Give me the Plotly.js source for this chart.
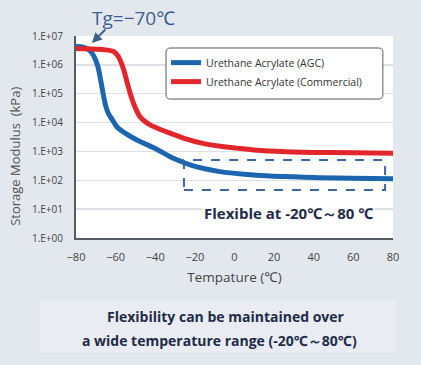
<!DOCTYPE html>
<html><head><meta charset="utf-8">
<script src="https://cdn.plot.ly/plotly-3.0.1.min.js"></script>
<style>html,body{margin:0;padding:0;background:#e3e8ef;}#chart{width:421px;height:365px;}</style>
</head><body><div id="chart"></div>
<script>
// Temperature (°C) and storage modulus (kPa)
const tempAGC = [-80,-76,-73,-71,-69,-67.5,-66,-65,-63.7,-61.5,-59.4,-55,-49.3,-40,-32.5,-27,-22.4,-15,-7.3,5,18,30,43,60,80];
const modAGC  = [4.3e6,4.0e6,3.1e6,2.0e6,9.0e5,2.8e5,7.9e4,3.8e4,2.1e4,1.2e4,7.2e3,4.2e3,2.5e3,1.26e3,660,450,340,250,200,162,141,132,123,117,112];
const tempCom = [-80,-70,-65,-61,-59,-57.8,-56,-54,-52,-50,-47.7,-45,-42.6,-38,-32.5,-25,-16,-5,1,10,26,50,80];
const modCom  = [3.7e6,3.5e6,3.3e6,2.9e6,2.1e6,1.5e6,7.0e5,2.2e5,7.4e4,3.2e4,1.6e4,1.07e4,8.3e3,6.0e3,4.3e3,2.8e3,1.9e3,1.45e3,1.3e3,1.12e3,980,910,870];
const seriesNames = ["Urethane Acrylate (AGC)", "Urethane Acrylate (Commercial)"];
const xTicks = [-80,-60,-40,-20,0,20,40,60,80];
const yTicks = [1,10,100,1e3,1e4,1e5,1e6,1e7];
const yTickText = ["1.E+00","1.E+01","1.E+02","1.E+03","1.E+04","1.E+05","1.E+06","1.E+07"];
const flexRange = {x0:-25.5, x1:76, y0:46, y1:500};

const FONT = "Open Sans, Noto Sans, sans-serif";
const traces = [
  {x: tempAGC, y: modAGC, name: seriesNames[0], mode: "lines", line: {color: "#1c66b0", width: 5, shape: "spline"}},
  {x: tempCom, y: modCom, name: seriesNames[1], mode: "lines", line: {color: "#e3262c", width: 5, shape: "spline"}}
];

// rounded legend frame (paper coords)
const lx0 = 0.284, lx1 = 0.968, ly0 = 0.688, ly1 = 0.9406, rx = 0.014, ry = 0.022;
const legendFrame = `M ${lx0+rx} ${ly1} L ${lx1-rx} ${ly1} Q ${lx1} ${ly1} ${lx1} ${ly1-ry} L ${lx1} ${ly0+ry} Q ${lx1} ${ly0} ${lx1-rx} ${ly0} L ${lx0+rx} ${ly0} Q ${lx0} ${ly0} ${lx0} ${ly0+ry} L ${lx0} ${ly1-ry} Q ${lx0} ${ly1} ${lx0+rx} ${ly1} Z`;

const layout = {
  width: 421, height: 365,
  margin: {l: 76, r: 28, t: 36, b: 127},
  paper_bgcolor: "#e3e8ef", plot_bgcolor: "#ffffff",
  font: {family: FONT, color: "#444", size: 11},
  xaxis: {range: [-80, 80], tickvals: xTicks, showgrid: false, zeroline: false,
    showline: true, linecolor: "#555a66", linewidth: 2, ticks: "outside", ticklen: 8, tickcolor: "rgba(0,0,0,0)",
    tickfont: {size: 11, color: "#444"},
    title: {text: "Tempature (℃)", font: {size: 13.5, color: "#444"}, standoff: 9}},
  yaxis: {type: "log", range: [0, 7], tickvals: yTicks, ticktext: yTickText, showgrid: true, gridcolor: "#dcdfe4", gridwidth: 1.5,
    zeroline: false, showline: true, linecolor: "#555a66", linewidth: 2, ticks: "outside", ticklen: 9, tickcolor: "rgba(0,0,0,0)",
    tickfont: {size: 10, color: "#444"}},
  showlegend: true,
  legend: {x: 0.284, y: 0.94, xanchor: "left", yanchor: "top", bgcolor: "rgba(0,0,0,0)", borderwidth: 0,
    font: {size: 10.5, color: "#333"}, tracegroupgap: 0},
  shapes: [
    {type: "path", xref: "paper", yref: "paper", path: legendFrame, fillcolor: "#ffffff",
     line: {color: "#555a66", width: 1}, layer: "above"},
    {type: "rect", xref: "x", yref: "y", x0: flexRange.x0, x1: flexRange.x1, y0: flexRange.y0, y1: flexRange.y1,
     line: {color: "#3a67a3", width: 2, dash: "dash"}},
    {type: "rect", xref: "paper", yref: "paper", x0: -0.1136, x1: 1.0095, y0: -0.569, y1: -0.307,
     fillcolor: "#e9edf3", line: {width: 0}, layer: "below"}
  ],
  annotations: [
    {xref: "paper", yref: "paper", x: 0.18, y: 1.089, xanchor: "center", yanchor: "middle", text: "Tg=−70℃", showarrow: false,
     font: {size: 19, color: "#3e5f8e", family: FONT}},
    {xref: "x", yref: "y", x: -72, y: 6.76, ax: 15, ay: -15, text: "", showarrow: true,
     arrowhead: 2, arrowsize: 1, arrowwidth: 2, arrowcolor: "#3e5f8e"},
    {xref: "paper", yref: "paper", x: 0.669, y: 0.125, xanchor: "center", yanchor: "middle", text: "<b>Flexible at -20℃～80 ℃</b>", showarrow: false,
     bgcolor: "#ffffff", font: {size: 15, color: "#1f2b48", family: FONT}},
    {xref: "paper", yref: "paper", x: -0.193, y: 0.406, xanchor: "center", yanchor: "middle", text: "Storage Modulus  (kPa)", textangle: -90, showarrow: false,
     font: {size: 13, color: "#555", family: FONT}},
    {xref: "paper", yref: "paper", x: 0.473, y: -0.391, xanchor: "center", yanchor: "middle", text: "<b>Flexibility can be maintained over</b>", showarrow: false,
     font: {size: 14, color: "#1f2b48", family: FONT}},
    {xref: "paper", yref: "paper", x: 0.454, y: -0.505, xanchor: "center", yanchor: "middle", text: "<b>a wide temperature range (-20℃～80℃)</b>", showarrow: false,
     font: {size: 14, color: "#1f2b48", family: FONT}}
  ]
};
Plotly.newPlot("chart", traces, layout, {displayModeBar: false, staticPlot: true});
</script></body></html>
